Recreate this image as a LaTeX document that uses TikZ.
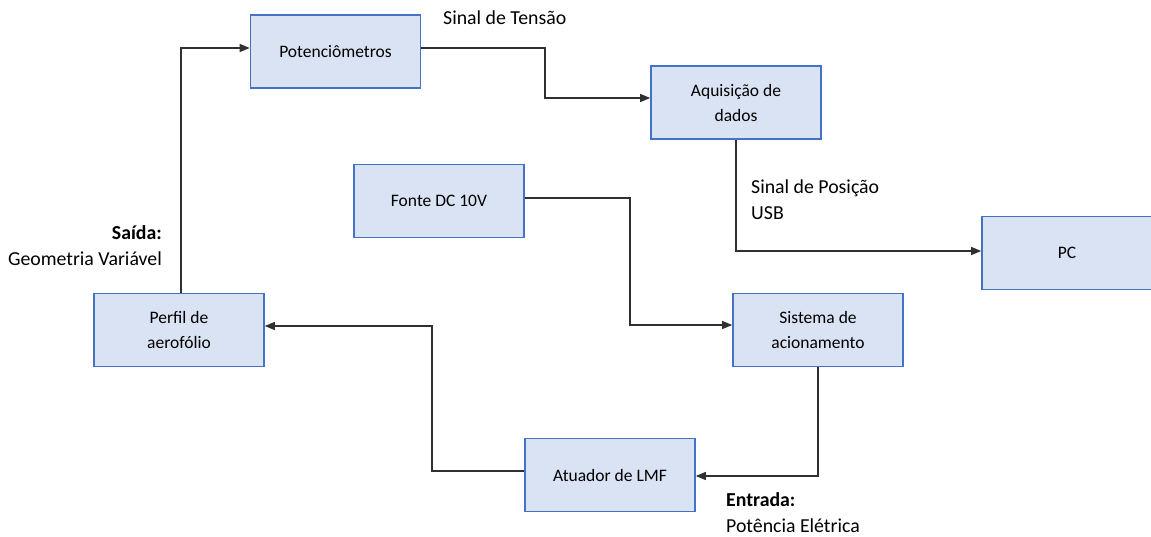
\documentclass[tikz,border=0pt]{standalone}
\usepackage{fontspec}
\setmainfont{Carlito}
\usetikzlibrary{arrows.meta}
\definecolor{boxfill}{HTML}{DAE3F3}
\definecolor{boxdraw}{HTML}{4472C4}
\definecolor{linec}{HTML}{303030}
\begin{document}
\begin{tikzpicture}[x=1pt,y=-1pt,
  blk/.style={draw=boxdraw,line width=1.6pt,fill=boxfill,minimum width=170pt,minimum height=73pt,align=center,font=\fontsize{17.5}{25}\selectfont,inner sep=0pt},
  conn/.style={draw=linec,line width=1.2pt,-{Triangle[length=10pt,width=8pt]}},
  lbl/.style={font=\fontsize{19.8}{26}\selectfont,inner sep=0pt}]
\useasboundingbox (0,0) rectangle (1151,536);
\begin{scope}
\clip (0,0) rectangle (1151,536);
\node[blk] (pot) at (335.5,51.5) {Potenciômetros};
\node[blk] (aq) at (736,102.5) {Aquisição de\\dados};
\node[blk] (fonte) at (439,201) {Fonte DC 10V};
\node[blk] (pc) at (1067,253) {PC};
\node[blk] (perfil) at (179,330) {Perfil de\\aerofólio};
\node[blk] (sist) at (818,330) {Sistema de\\acionamento};
\node[blk] (atu) at (610,475) {Atuador de LMF};
\end{scope}
\draw[conn] (perfil.north -| 181,0) |- (pot.west |- 0,48);
\draw[conn] (pot.east |- 0,48) -| (545,73) |- (aq.west |- 0,98);
\draw[conn] (aq.south) |- (pc.west |- 0,251);
\draw[conn] (fonte.east |- 0,198) -| (630,260) |- (sist.west |- 0,325);
\draw[conn] (sist.south) |- (atu.east |- 0,476);
\draw[conn] (atu.west |- 0,471) -| (432,400) |- (perfil.east |- 0,326);
\node[lbl,anchor=west] (l1) at (443,18) {Sinal de Tensão};
\node[lbl,anchor=north west,align=left] (l2) at (751,179.5) {Sinal de Posição\\USB};
\node[lbl,anchor=north east,align=right] (l3) at (162,225) {\textbf{Saída:}\\Geometria Variável};
\node[lbl,anchor=north west,align=left] (l4) at (726,492) {\textbf{Entrada:}\\Potência Elétrica};
\end{tikzpicture}
\end{document}
